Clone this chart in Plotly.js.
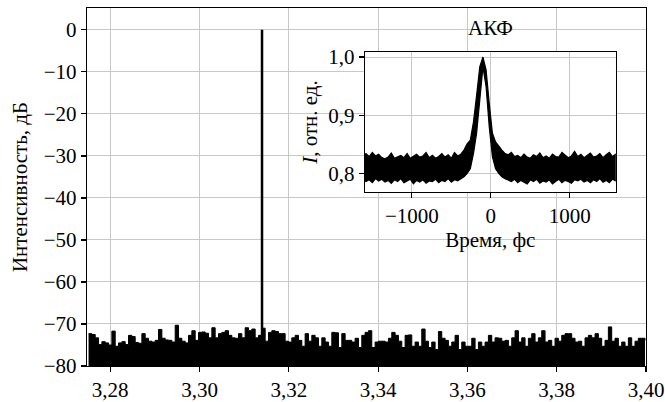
<!DOCTYPE html>
<html>
<head>
<meta charset="utf-8">
<script src="https://cdn.plot.ly/plotly-3.0.1.min.js"></script>
<style>html,body{margin:0;padding:0;background:#fff;}#chart{width:665px;height:402px;}</style>
</head>
<body>
<div id="chart"></div>
<script>
// ---- Main spectrum: noise floor (dB), sampled on a uniform frequency grid ----
var noiseStart = 3.275148;
var noiseStep = 0.0007463;
var noiseDb = [
 -72.3,-72.5,-73.3,-74.9,-74.2,-74.5,-75.0,-71.7,-75.3,-74.5,
 -74.2,-74.9,-72.7,-73.0,-74.4,-74.6,-72.3,-73.4,-74.1,-74.3,
 -73.9,-71.3,-73.4,-73.8,-73.9,-74.3,-70.3,-73.4,-74.1,-74.5,
 -72.7,-71.6,-73.9,-72.0,-71.9,-72.2,-73.3,-70.9,-73.3,-72.3,
 -72.0,-71.6,-72.7,-73.3,-73.4,-72.3,-73.3,-70.9,-71.6,-71.2,
 -73.3,-72.7,-71.0,-74.1,-72.0,-71.6,-71.8,-72.3,
 -72.3,-74.1,-74.3,-73.3,-72.7,-73.9,-75.3,-72.3,-74.1,-72.7,
 -73.3,-75.3,-73.3,-74.3,-75.3,-72.0,-72.1,-75.6,-72.3,-73.9,
 -73.9,-74.3,-73.4,-75.6,-72.7,-72.0,-71.6,-75.6,-74.3,-74.1,
 -74.1,-74.3,-73.4,-72.0,-72.7,-74.1,-75.6,-72.7,-72.6,-75.3,
 -74.3,-75.3,-71.2,-74.1,-75.6,-74.3,-76.1,-71.8,-73.4,-73.9,
 -75.3,-74.3,-72.7,-76.1,-74.3,-75.3,-75.3,-73.4,-76.1,-74.3,
 -75.3,-74.3,-72.7,-74.3,-73.3,-73.4,-74.1,-73.9,-75.3,-73.3,
 -71.6,-74.3,-73.3,-75.3,-73.4,-72.3,-74.3,-73.3,-71.6,-74.3,
 -73.9,-75.3,-73.4,-74.1,-72.7,-72.3,-72.3,-73.4,-74.3,-74.1,
 -75.3,-73.3,-72.7,-73.3,-72.3,-73.4,-75.3,-73.9,-70.7,-74.1,
 -73.4,-75.3,-74.3,-75.3,-73.3,-75.3,-74.1,-73.4,-73.4,-73.9
];
var floorDb = -90;           // bottom of the filled noise region (below axis)
var peakFreq = 3.3140;       // laser line
var peakDb = 0;

var mainXTicks = [3.28, 3.30, 3.32, 3.34, 3.36, 3.38, 3.40];
var mainYTicks = [0, -10, -20, -30, -40, -50, -60, -70, -80];

// ---- Inset: autocorrelation function (band envelopes of the noisy trace) ----
var acfStart = -1620;
var acfStep = 40;
var acfUpper = [
 0.832,0.834,0.829,0.836,0.830,0.833,0.827,0.825,0.828,0.835,
 0.826,0.829,0.831,0.827,0.834,0.826,0.829,0.833,0.828,0.830,
 0.836,0.827,0.831,0.826,0.829,0.834,0.828,0.832,0.826,0.836,
 0.830,0.833,0.840,
 0.851,0.857,0.888,0.934,0.983,1.000,0.978,0.920,0.869,0.854,0.846,0.840,0.834,0.832,
 0.836,0.829,0.831,0.827,0.833,0.828,0.826,0.832,0.829,0.835,
 0.827,0.830,0.826,0.833,0.829,0.828,0.836,0.831,0.827,0.830,
 0.838,0.829,0.833,0.827,0.831,0.835,0.828,0.830,0.834,0.827,
 0.832,0.836,0.829,0.833,0.831
];
var acfLower = [
 0.790,0.786,0.789,0.784,0.791,0.787,0.790,0.785,0.788,0.783,
 0.789,0.786,0.791,0.784,0.787,0.790,0.782,0.788,0.785,0.789,
 0.783,0.787,0.786,0.790,0.784,0.788,0.786,0.791,0.785,0.789,
 0.787,0.790,0.794,
 0.800,0.808,0.834,0.869,0.926,0.983,0.949,0.880,0.829,0.808,0.800,0.794,0.791,0.789,
 0.786,0.790,0.784,0.788,0.785,0.782,0.789,0.786,0.790,0.783,
 0.787,0.785,0.789,0.782,0.786,0.790,0.784,0.788,0.786,0.783,
 0.789,0.787,0.790,0.785,0.788,0.784,0.789,0.786,0.791,0.785,
 0.788,0.784,0.790,0.787,0.789
];
var insetXTicks = [-1000, 0, 1000];
var insetYTicks = [0.8, 0.9, 1.0];

// ---- build ----
var noiseX = noiseDb.map(function(_, i){ return noiseStart + i*noiseStep; });
var acfT = acfUpper.map(function(_, i){ return acfStart + i*acfStep; });

var FONT = 'Liberation Serif, Times New Roman, serif';
var grid = '#c8c8c8';

var traces = [
  {x:[noiseX[0], noiseX[noiseX.length-1]], y:[floorDb, floorDb], mode:'lines',
   line:{width:0, color:'black'}, xaxis:'x', yaxis:'y', hoverinfo:'skip', showlegend:false},
  {x:noiseX, y:noiseDb, mode:'lines', line:{color:'black', width:1, shape:'hv'},
   fill:'tonexty', fillcolor:'black', xaxis:'x', yaxis:'y', showlegend:false},
  {x:[peakFreq, peakFreq], y:[floorDb, peakDb], mode:'lines',
   line:{color:'black', width:2.5}, xaxis:'x', yaxis:'y', showlegend:false},
  {x:acfT, y:acfLower, mode:'lines', line:{color:'black', width:1.2},
   xaxis:'x2', yaxis:'y2', showlegend:false},
  {x:acfT, y:acfUpper, mode:'lines', line:{color:'black', width:1.2},
   fill:'tonexty', fillcolor:'black', xaxis:'x2', yaxis:'y2', showlegend:false}
];

var axCommon = {
  showline:true, linecolor:'black', linewidth:1.2, mirror:true,
  ticks:'outside', ticklen:5, tickcolor:'black', tickwidth:1.2,
  showgrid:true, gridcolor:grid, gridwidth:1, zeroline:false,
  tickfont:{family:FONT, size:21, color:'black'}
};
function ax(extra){ var o = {}; for (var k in axCommon) o[k]=axCommon[k]; for (var k2 in extra) o[k2]=extra[k2]; return o; }

var layout = {
  width:665, height:402,
  margin:{l:87, r:19, t:8, b:36, pad:0},
  paper_bgcolor:'white', plot_bgcolor:'white',
  separators:', ',
  font:{family:FONT, size:21, color:'black'},
  showlegend:false,
  xaxis: ax({range:[3.2748, 3.40], tickvals:mainXTicks, tickformat:'.2f', domain:[0,1], anchor:'y'}),
  yaxis: ax({range:[-80, 5.2], tickvals:mainYTicks, domain:[0,1], anchor:'x',
    title:{text:'Интенсивность, дБ', font:{family:FONT, size:21, color:'black'}, standoff:10}}),
  xaxis2: ax({range:[-1595, 1582], tickvals:insetXTicks, domain:[0.497, 0.946], anchor:'y2',
    title:{text:'Время, фс', font:{family:FONT, size:21, color:'black'}, standoff:2}}),
  yaxis2: ax({range:[0.768, 1.0086], tickvals:insetYTicks, tickformat:'.1f', domain:[0.486, 0.877], anchor:'x2',
    title:{text:'<i>I</i>, отн. ед.', font:{family:FONT, size:21, color:'black'}, standoff:4}}),
  annotations:[
    {text:'АКФ', xref:'x2 domain', yref:'y2 domain', x:0.5, y:1.07, xanchor:'center', yanchor:'bottom',
     showarrow:false, font:{family:FONT, size:21, color:'black'}}
  ]
};

Plotly.newPlot('chart', traces, layout, {staticPlot:true, displayModeBar:false});
</script>
</body>
</html>
